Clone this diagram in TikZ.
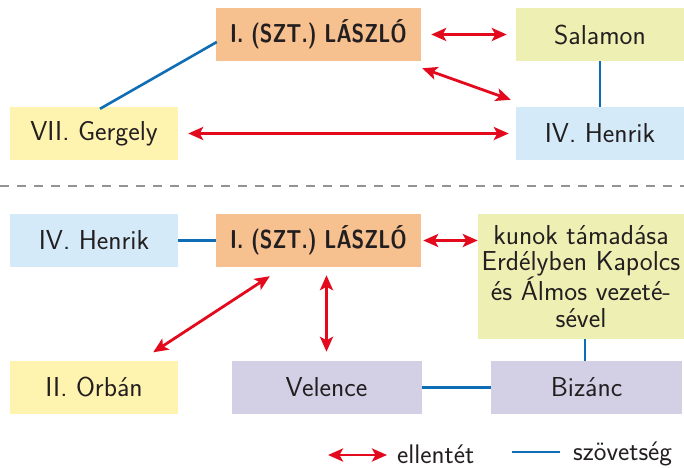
\documentclass[tikz,border=0pt]{standalone}
\usepackage{fontspec}
\setmainfont{Latin Modern Sans}
\newfontfamily\boldcond[FakeStretch=0.8]{Latin Modern Sans}
\usetikzlibrary{arrows.meta,calc}
\definecolor{redc}{HTML}{E30A1E}
\definecolor{bluec}{HTML}{0E6DB5}
\definecolor{orangef}{HTML}{F7C08F}
\definecolor{limef}{HTML}{EEF0B3}
\definecolor{yellowf}{HTML}{FFF3B0}
\definecolor{bluef}{HTML}{D5EAF8}
\definecolor{lilacf}{HTML}{D3D0E6}
\definecolor{textc}{HTML}{231F20}
\tikzset{
  box/.style={rectangle, inner sep=0pt, minimum height=53bp, text=textc, font=\fontsize{27.5}{26.7}\selectfont, align=center},
  kingbox/.style={box, fill=orangef, minimum width=205bp, font=\fontsize{26}{26.7}\selectfont\boldcond\bfseries},
  opp/.style={draw=redc, line width=2.8bp, {Stealth[length=15bp,width=13bp,inset=3.5bp]}-{Stealth[length=15bp,width=13bp,inset=3.5bp]}},
  ally/.style={draw=bluec, line width=2.6bp},
  legtext/.style={anchor=west, inner sep=0pt, text=textc, font=\fontsize{27}{26.7}\selectfont},
}
\begin{document}
\begin{tikzpicture}[x=1bp,y=-1bp]
\useasboundingbox (0,0) rectangle (684,468);
% top part
\node[kingbox] (L1) at (318.5,34.5) {I. (SZT.) LÁSZLÓ};
\node[box, fill=limef, minimum width=168bp] (Sal) at (600,34.5) {Salamon};
\node[box, fill=yellowf, minimum width=168bp] (Greg) at (94,133.5) {VII. Gergely};
\node[box, fill=bluef, minimum width=168bp] (Hen1) at (600,133.5) {IV. Henrik};
\draw[opp, shorten <=10bp, shorten >=9bp] (L1.east) -- (Sal.west);
\draw[opp] ($(L1.south east)+(1,7)$) -- ($(Hen1.north west)+(-5,-7)$);
\draw[ally] ($(Greg.north)+(6,2)$) -- ($(L1.west)+(1,7.5)$);
\draw[opp, shorten <=10bp, shorten >=7bp] (Greg.east) -- (Hen1.west);
\draw[ally] (Sal.south) -- (Hen1.north);
% separator
\coordinate (dl) at (0,186);
\coordinate (dr) at (684,186);
\draw[color=gray!85, line width=1.5bp, dash pattern=on 9bp off 8bp] (dl) -- (dr);
% bottom part
\node[box, fill=bluef, minimum width=168bp] (Hen2) at (94,240.5) {IV. Henrik};
\node[kingbox] (L2) at (318.5,240.5) {I. (SZT.) LÁSZLÓ};
\node[box, fill=limef, minimum width=206bp, minimum height=125bp] (Kun) at (581,276.5) {kunok támadása\\Erdélyben Kapolcs\\és Álmos vezeté-\\sével};
\node[box, fill=yellowf, minimum width=168bp] (Orb) at (94,387) {II. Orbán};
\node[box, fill=lilacf, minimum width=190bp] (Vel) at (326.5,387.5) {Velence};
\node[box, fill=lilacf, minimum width=191bp] (Biz) at (586.5,387.5) {Bizánc};
\draw[ally] (Hen2.east) -- (L2.west);
\draw[opp, shorten <=2bp] (L2.east) -- (L2.east -| Kun.west);
\draw[opp] ($(L2.south west)+(54,9)$) -- ($(Orb.north east)+(-25,-8)$);
\draw[opp] ($(Vel.north |- L2.south)+(0,8)$) -- ($(Vel.north)+(0,-9)$);
\draw[ally] ($(Biz.north)+(-1.5,0)$) -- ($(Biz.north |- Kun.south)+(-1.5,0)$);
\draw[ally] (Vel.east) -- (Biz.west);
% legend
\coordinate (la) at (328,455);
\coordinate (lb) at (387,455);
\coordinate (lc) at (512,452);
\coordinate (ld) at (560,452);
\draw[opp] (la) -- (lb);
\node[legtext] (lt1) at (397,454) {ellentét};
\draw[ally] (lc) -- (ld);
\node[legtext] (lt2) at (573,454) {szövetség};
\end{tikzpicture}
\end{document}
